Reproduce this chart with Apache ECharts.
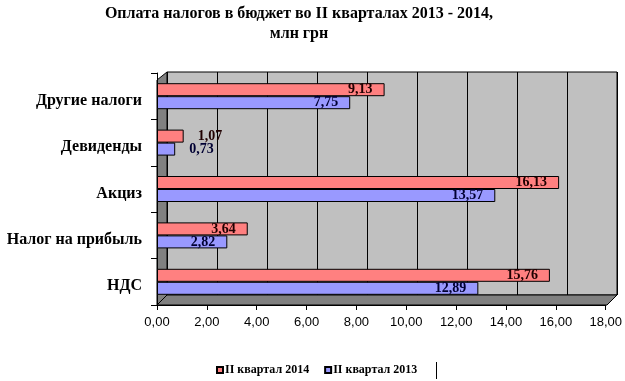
<!DOCTYPE html>
<html><head><meta charset="utf-8">
<script src="https://cdn.jsdelivr.net/npm/echarts@6/dist/echarts.min.js"></script>
<style>html,body{margin:0;padding:0;background:#fff}#c{width:625px;height:381px}</style>
</head><body><div id="c"></div>
<script>
var categories = ['Другие налоги','Девиденды','Акциз','Налог на прибыль','НДС'];
var q2014 = [9.13,1.07,16.13,3.64,15.76];
var q2013 = [7.75,0.73,13.57,2.82,12.89];
var xTicks = {min:0, max:18, interval:2};
var seriesNames = ['II квартал 2014','II квартал 2013'];

function fmt(v){ return Number(v).toFixed(2).replace('.', ','); }
function labelItems(arr){
  return arr.map(function(v){
    return v < 2 ? {value:v, label:{position:'right', distance:14}} : v;
  });
}
var chart = echarts.init(document.getElementById('c'));
chart.setOption({
  animation:false,
  title:{text:'Оплата налогов в бюджет во II кварталах 2013 - 2014,\nмлн грн', left:294, textAlign:'center', top:-1,
    textStyle:{fontFamily:'Liberation Serif', fontWeight:'bold', fontSize:16, lineHeight:20, color:'#000'}},
  legend:{bottom:0, left:211, itemWidth:6, itemHeight:6, itemGap:15, icon:'rect',
    textStyle:{fontFamily:'Liberation Serif', fontWeight:'bold', fontSize:12, color:'#000', padding:[0,0,0,-3]},
    data:seriesNames},
  graphic:[
    {type:'polygon', shape:{points:[[157,80],[167,72],[167,295],[157,305]]}, style:{fill:'#808080', stroke:'#000', lineWidth:1}, z:0},
    {type:'polygon', shape:{points:[[157,305],[167,295],[617,295],[607,305]]}, style:{fill:'#808080', stroke:'#000', lineWidth:1}, z:0},
    {type:'line', shape:{x1:436.5,y1:362,x2:436.5,y2:379}, style:{stroke:'#000', lineWidth:1}}
  ],
  grid:[
    {left:167, right:8, top:72, bottom:86, show:true, backgroundColor:'#C0C0C0', borderColor:'#000', borderWidth:1},
    {left:157, right:18, top:73, bottom:76}
  ],
  xAxis:[
    {gridIndex:0, type:'value', min:xTicks.min, max:xTicks.max, interval:xTicks.interval,
      axisLine:{show:false}, axisTick:{show:false}, axisLabel:{show:false},
      splitLine:{show:true, lineStyle:{color:'#000', width:1}}},
    {gridIndex:1, type:'value', min:xTicks.min, max:xTicks.max, interval:xTicks.interval,
      axisLine:{show:true, lineStyle:{color:'#000'}}, axisTick:{show:true, length:5, lineStyle:{color:'#000'}},
      splitLine:{show:false},
      axisLabel:{formatter:fmt, fontFamily:'Liberation Sans', fontSize:13, color:'#000', margin:11}}
  ],
  yAxis:[
    {gridIndex:0, type:'category', data:categories, inverse:true, show:false},
    {gridIndex:1, type:'category', data:categories, inverse:true,
      axisLine:{show:true, lineStyle:{color:'#000'}}, axisTick:{show:true, length:6, lineStyle:{color:'#000'}},
      axisLabel:{fontFamily:'Liberation Serif', fontWeight:'bold', fontSize:16, color:'#000', margin:15,
        verticalAlign:'top', lineHeight:9}}
  ],
  series:[
    {name:seriesNames[0], type:'bar', xAxisIndex:1, yAxisIndex:1, data:labelItems(q2014), barWidth:13, barGap:'0%',
      itemStyle:{color:'#FF8080', borderColor:'#000', borderWidth:1},
      label:{show:true, position:'insideRight', distance:12, formatter:function(p){return fmt(p.value);},
        fontFamily:'Liberation Serif', fontWeight:'bold', fontSize:14, color:'#200000'}},
    {name:seriesNames[1], type:'bar', xAxisIndex:1, yAxisIndex:1, data:labelItems(q2013), barWidth:13, barGap:'0%',
      itemStyle:{color:'#9999FF', borderColor:'#000', borderWidth:1},
      label:{show:true, position:'insideRight', distance:12, formatter:function(p){return fmt(p.value);},
        fontFamily:'Liberation Serif', fontWeight:'bold', fontSize:14, color:'#000033'}}
  ]
});
</script></body></html>
